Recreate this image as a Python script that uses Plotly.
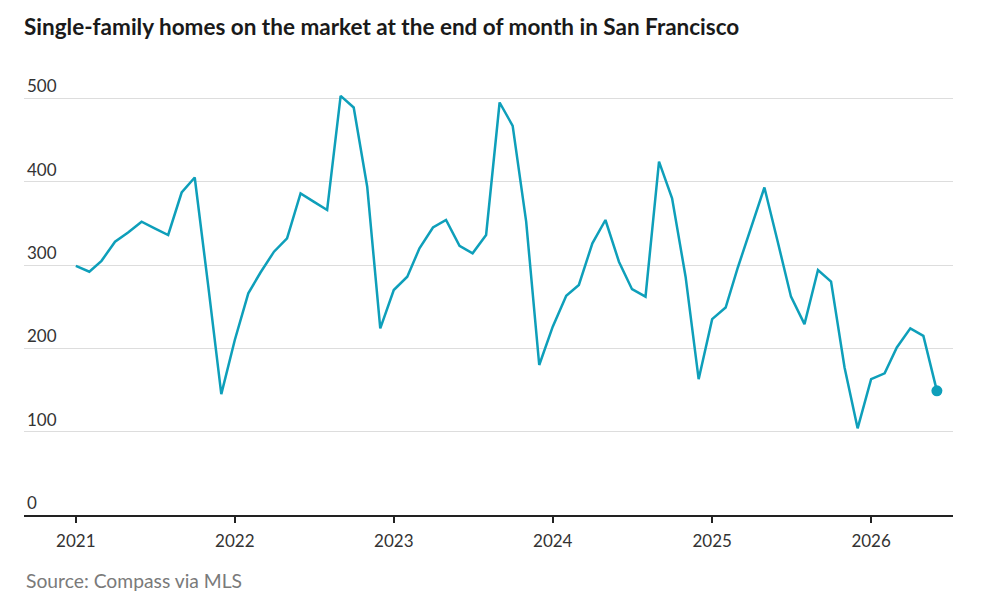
import pandas as pd
import plotly.graph_objects as go

# monthly listings, Jan 2021 - Jun 2026
months = pd.date_range("2021-01-01", "2026-06-01", freq="MS")
homes = [
    299, 292, 305, 328, 339, 352, 344, 336, 387, 405, 275, 145,   # 2021
    210, 266, 291, 316, 332, 386, 376, 366, 503, 489, 394, 224,   # 2022
    270, 286, 320, 345, 354, 323, 314, 336, 495, 467, 352, 180,   # 2023
    226, 263, 276, 326, 354, 304, 271, 262, 424, 380, 286, 163,   # 2024
    235, 249, 297, 345, 393, 327, 262, 229, 294, 280, 177, 104,   # 2025
    163, 170, 201, 224, 215, 149,                                 # 2026
]
year_ticks = ["2021-01-01", "2022-01-01", "2023-01-01", "2024-01-01", "2025-01-01", "2026-01-01"]
year_labels = ["2021", "2022", "2023", "2024", "2025", "2026"]
y_ticks = [0, 100, 200, 300, 400, 500]

teal = "#0e9fba"
font = "Lato"

# the page puts the figure 8px in from the top-left corner
off = 8

fig = go.Figure()
fig.add_trace(go.Scatter(x=months, y=homes, mode="lines",
                         line=dict(color=teal, width=2.5), hoverinfo="x+y"))
# dot on the latest month
fig.add_trace(go.Scatter(x=[months[-1]], y=[homes[-1]], mode="markers",
                         marker=dict(color=teal, size=11), hoverinfo="skip"))

fig.update_layout(
    width=1003, height=598,
    margin=dict(l=24 - off, r=50 + off, t=75 - off, b=83 + off, autoexpand=False),
    paper_bgcolor="white", plot_bgcolor="white",
    showlegend=False,
    font=dict(family=font, color="#333333", size=17),
    title=dict(text="<b>Single-family homes on the market at the end of month in San Francisco</b>",
               x=(24 - off) / 1003, xref="container", xanchor="left",
               y=1 - (27 - off) / 598, yref="container", yanchor="middle",
               font=dict(size=22.5, color="#1a1a1a", family=font)),
    annotations=[dict(text="Source: Compass via MLS", x=0, xref="paper", xanchor="left",
                      y=-(580 - 515) / 440, yref="paper", yanchor="middle", showarrow=False,
                      font=dict(size=19.3, color="#7a7a7a", family=font))],
)
fig.update_xaxes(
    range=["2020-09-04", "2026-07-08"],
    tickvals=year_ticks, ticktext=year_labels,
    showgrid=False, zeroline=False, automargin=False,
    showline=True, linecolor="#222222", linewidth=2,
    ticks="outside", ticklen=6, tickwidth=1.5, tickcolor="#222222",
    ticklabelstandoff=4,
    tickfont=dict(size=17, color="#333333"),
)
fig.update_yaxes(
    range=[0, 528],
    tickvals=y_ticks,
    ticklabelposition="inside top", automargin=False,
    showgrid=True, gridcolor="#dddddd", gridwidth=1,
    zeroline=False, showline=False,
    tickfont=dict(size=17, color="#333333"),
)

fig.write_html("out.html")
